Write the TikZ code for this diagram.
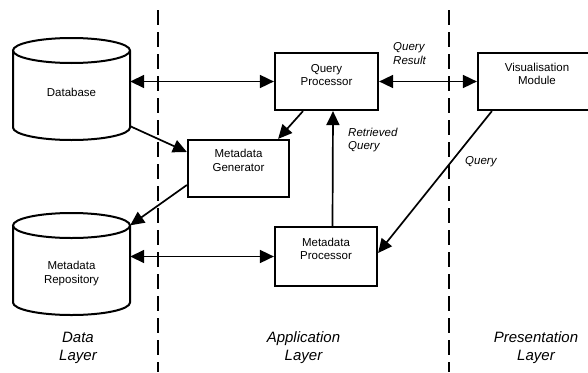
\documentclass[tikz,border=0pt]{standalone}
\usepackage{fontspec}
\setmainfont{Liberation Sans}
\usetikzlibrary{arrows.meta}

\begin{document}
\begin{tikzpicture}[x=1pt,y=-1pt,
  box/.style={draw, line width=2.2pt, inner sep=0pt},
  boxtext/.style={inner sep=0pt, align=center, font=\fontsize{11.5}{13.5}\selectfont},
  cyl/.style={draw, line width=2pt},
  hold/.style={inner sep=0pt, minimum width=117pt, minimum height=102pt},
  conn/.style={line width=1.7pt, -{Triangle[length=14pt,width=13pt]}},
  biconn/.style={line width=1.7pt, {Triangle[length=14pt,width=13pt]}-{Triangle[length=14pt,width=13pt]}},
  note/.style={inner sep=0pt, align=left, font=\fontsize{11.5}{13.5}\selectfont\itshape},
  layer/.style={inner sep=0pt, align=center, font=\fontsize{15}{18}\selectfont\itshape},
  divider/.style={line width=2pt, dash pattern=on 15pt off 7pt}]

\clip (0,0) rectangle (588,372);

% layer dividers
\coordinate (d1t) at (158,10);
\coordinate (d1b) at (158,372);
\coordinate (d2t) at (449,10);
\coordinate (d2b) at (449,372);
\draw[divider] (d1t) -- (d1b);
\draw[divider] (d2t) -- (d2b);

% Database cylinder
\draw[cyl] (13,50.5) -- (13,127.5) arc[start angle=180, end angle=0, x radius=58.5, y radius=12.5] -- (130,50.5);
\draw[cyl] (71.5,50.5) ellipse[x radius=58.5, y radius=12.5];
\node[hold] (db) at (71.5,89) {};
\node[boxtext] (dbt) at (71.5,92) {Database};

% Metadata Repository cylinder
\draw[cyl] (13,225.5) -- (13,302.5) arc[start angle=180, end angle=0, x radius=58.5, y radius=12.5] -- (130,225.5);
\draw[cyl] (71.5,225.5) ellipse[x radius=58.5, y radius=12.5];
\node[hold] (mr) at (71.5,264) {};
\node[boxtext] (mrt) at (71.5,273.5) {Metadata\\Repository};

% processing boxes
\node[box, minimum width=103pt, minimum height=57pt] (qp) at (326.5,81.5) {};
\node[boxtext] (qpt) at (326.5,75) {Query\\Processor};

\node[box, minimum width=101pt, minimum height=57pt] (mg) at (238.5,168.5) {};
\node[boxtext] (mgt) at (238.5,160.5) {Metadata\\Generator};

\node[box, minimum width=118pt, minimum height=57pt] (vm) at (537,81.5) {};
\node[boxtext] (vmt) at (537,74) {Visualisation\\Module};

\node[box, minimum width=102pt, minimum height=59pt] (mp) at (326,256.5) {};
\node[boxtext] (mpt) at (326,249) {Metadata\\Processor};

% connectors
\draw[biconn] (db.east |- qp.west) -- (qp.west);
\draw[biconn] (qp.east) -- (vm.west);
\draw[biconn] (mr.east |- mp.west) -- (mp.west);
\draw[conn] ([xshift=6.5pt]mp.north) -- ([xshift=6.5pt]qp.south);
\draw[conn] ([xshift=-23.5pt]qp.south) -- ([xshift=-12pt]mg.north east);
\draw[conn] ([yshift=14pt]db.south east) -- ([yshift=16.5pt]mg.west);
\draw[conn] ([yshift=-16.5pt]mg.west) -- ([yshift=-12.5pt]mr.north east);
\draw[conn] ([xshift=15pt]vm.south west) -- ([yshift=3.5pt]mp.east);

% connector labels
\node[note, anchor=west] (qr) at (393,53.5) {Query\\Result};
\node[note, anchor=west] (rq) at (348,140) {Retrieved\\Query};
\node[note, anchor=west] (ql) at (465,162) {Query};

% layer captions
\node[layer] (dl) at (78,348) {Data\\Layer};
\node[layer] (al) at (303.5,348) {Application\\Layer};
\node[layer] (pl) at (536,348) {Presentation\\Layer};

\end{tikzpicture}
\end{document}
